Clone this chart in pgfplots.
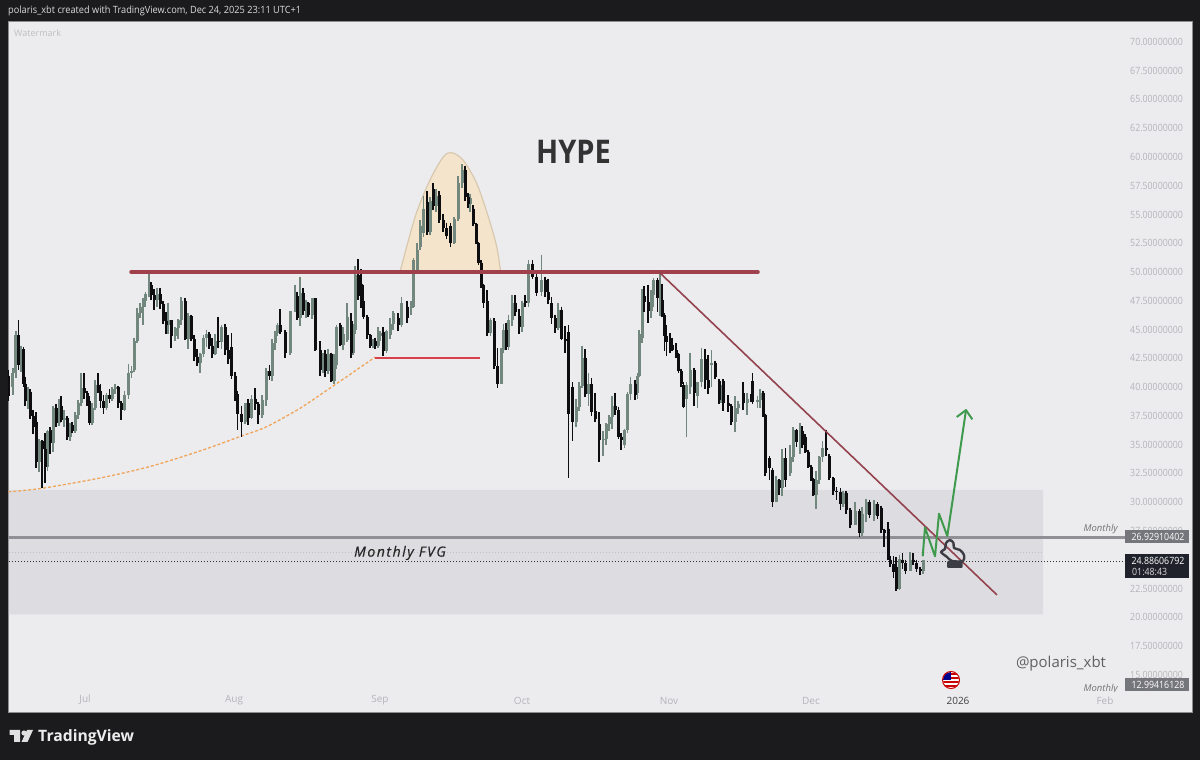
\documentclass[border=0pt]{standalone}
\usepackage{fontspec}
\setmainfont{Open Sans}
\usepackage{pgfplots}
\usepackage{pgfplotstable}
\pgfplotsset{compat=1.18}

\definecolor{frame}{HTML}{1B1B1D}
\definecolor{panel}{HTML}{ECECEF}
\definecolor{zone}{HTML}{DDDDE1}
\definecolor{axistext}{HTML}{B4B4B9}
\definecolor{upcandle}{HTML}{72887F}
\definecolor{downcandle}{HTML}{0E0E10}
\definecolor{resist}{HTML}{A0404C}
\definecolor{trend}{HTML}{93424E}
\definecolor{necklinered}{HTML}{D8404C}
\definecolor{bump}{HTML}{F5E4CC}
\definecolor{bumpedge}{HTML}{D8C8AE}
\definecolor{fibo}{HTML}{F0A55A}
\definecolor{path}{HTML}{3F9A4E}
\definecolor{monthly}{HTML}{8F8F95}
\definecolor{tag}{HTML}{75757C}
\definecolor{lasttag}{HTML}{1F222B}
\definecolor{hand}{HTML}{3D3D45}

% x is the pixel column of the screenshot, prices as on the right scale
\pgfplotstableread{
x o h l c
8.5 41.0 41.5 38.8 39.2
13 40.0 41.7 39.3 41.2
16 41.2 44.9 40.8 44.5
18.5 44.5 45.8 41.5 41.9
21 41.9 43.6 41.3 43.3
23.5 43.3 43.5 40.0 40.3
25 40.3 40.9 38.4 38.8
28 38.8 40.0 38.1 39.6
30 39.6 39.8 37.2 37.5
33 37.5 38.0 35.9 36.5
36 37.0 37.8 33.0 33.5
39 33.5 35.5 32.6 35.3
42 35.3 35.4 31.2 34.6
45 34.6 36.0 31.7 33.1
47.5 33.1 36.3 32.7 36.2
50 36.3 36.5 34.2 35.1
53 35.1 38.4 34.4 38.2
56 38.2 38.5 36.5 36.9
59 36.9 39.0 36.6 38.4
61 38.4 39.2 37.0 37.1
64 37.1 38.0 36.5 37.3
67 37.3 37.5 35.4 35.7
70 35.7 36.9 35.3 36.7
72 36.7 37.0 36.0 36.2
75 36.2 37.8 36.0 37.6
78 37.6 38.9 37.2 38.6
81 38.6 41.2 38.4 39.9
84 39.9 41.2 39.0 39.5
87 39.5 39.7 38.4 38.8
89.5 38.8 39.2 36.7 36.9
92 36.9 38.6 36.7 38.2
95 38.2 40.6 38.0 40.2
98 40.2 41.2 39.5 39.7
100.5 39.7 40.3 38.2 38.8
103.5 38.8 39.3 37.7 38.2
106.5 38.2 39.5 38.0 39.3
109.5 39.3 39.8 38.6 39.0
112 39.0 40.0 38.8 39.8
115 39.8 40.3 39.4 40.0
118 40.0 40.1 38.2 38.6
121 38.6 38.8 37.1 38.0
124.5 38.0 39.7 37.9 39.3
128.5 39.3 42.0 39.0 41.2
131.5 41.2 41.8 40.8 41.4
134 41.5 44.3 41.3 44.0
137 44.0 46.9 43.8 46.4
140 46.4 47.3 46.0 47.0
143 47.0 47.7 45.4 47.5
145.5 47.5 48.3 47.0 48.1
149 48.1 49.9 47.8 48.9
151 48.9 49.1 47.6 48.0
154 48.0 48.5 46.7 47.6
157 47.6 48.6 47.0 48.1
160 48.1 48.6 46.8 47.2
163 47.2 47.5 45.5 45.7
166 45.7 46.5 44.6 45.4
168 45.4 47.3 44.6 45.8
171 45.8 45.8 43.4 44.4
175 44.4 45.2 44.0 45.1
178 45.1 45.9 44.2 45.8
181 45.8 47.8 45.4 47.5
185 47.5 47.7 44.1 44.2
188 44.2 46.4 43.3 46.2
191 46.2 46.3 44.0 44.2
194 44.2 44.5 42.3 42.6
197 42.6 43.3 41.8 42.1
200 42.1 43.0 41.2 42.9
203.5 42.9 44.5 42.6 44.3
206.5 44.3 45.0 43.5 44.6
209 44.6 44.8 43.3 43.6
212 43.6 44.3 42.5 42.9
215 42.9 44.6 42.8 44.0
218 44.0 46.1 43.4 43.9
221.5 43.9 45.4 43.3 45.2
225 45.2 45.5 42.8 43.2
228 43.2 44.5 42.0 42.4
231.5 43.5 44.7 40.7 41.0
235 41.0 41.3 38.8 39.4
237.5 39.4 39.7 36.3 37.7
241.5 37.7 38.4 35.7 37.0
245 37.0 38.6 36.8 38.6
248 38.6 39.0 36.7 37.3
251.5 37.3 39.3 37.2 39.0
255 39.0 39.9 38.0 38.5
258 38.5 38.7 36.8 37.6
262 37.6 39.3 37.3 38.9
266 38.9 41.7 38.4 41.4
269.5 41.4 41.9 40.6 41.0
272 41.0 44.2 40.5 43.8
275 43.8 44.9 43.2 44.7
277.5 44.7 45.6 44.4 45.4
280 45.4 46.8 44.6 44.8
285 44.8 45.0 42.5 43.0
290 43.0 46.6 42.8 46.6
295 46.7 48.9 46.5 47.9
297 47.9 48.3 45.8 46.0
300 46.0 49.6 45.3 48.2
303 48.2 48.6 46.3 46.6
306 46.6 47.6 46.0 47.3
308 47.3 47.4 46.1 46.3
312 46.3 47.7 45.9 47.7
315 47.7 47.7 43.1 43.2
320 43.2 44.0 41.0 41.5
323 41.5 43.0 41.2 42.9
325 42.9 43.2 40.9 41.4
328 41.4 43.3 41.1 42.9
331 42.9 43.0 40.4 40.5
334 40.5 42.9 40.3 41.9
336.5 41.9 45.4 41.6 45.2
340 45.4 45.6 43.6 43.7
343 43.7 45.2 43.2 44.6
347 44.1 47.3 43.9 46.1
351 45.7 46.4 42.5 43.0
353 43.0 45.5 42.8 45.0
355 45.0 50.5 44.6 49.7
358 49.7 51.1 47.6 47.9
361 49.0 50.3 46.9 47.2
363.5 47.5 48.9 45.9 46.1
367 46.1 46.3 44.2 44.5
370 44.5 44.6 43.4 43.6
373 43.6 44.2 43.4 44.0
375 44.0 44.3 43.3 43.6
378 43.6 45.2 43.4 44.4
380 44.4 44.9 44.0 44.7
383 44.8 45.2 42.7 43.1
386.5 43.1 45.0 43.0 44.9
390 44.5 46.0 44.2 45.5
393 45.5 46.6 45.0 46.4
398 46.0 46.4 44.9 45.4
401.5 45.4 47.8 45.2 47.3
407 47.0 47.5 45.6 46.0
411 46.9 47.5 46.3 47.2
413.5 47.0 51.2 46.9 51.0
417 50.2 52.5 50.0 51.9
420 52.2 54.5 51.9 54.0
423.5 53.4 56.6 53.0 55.5
427 56.1 57.0 53.2 53.5
430 53.5 56.5 53.2 56.2
433 57.2 57.7 55.4 55.7
436 55.7 57.2 55.2 56.6
439 56.7 57.0 54.3 54.5
443 54.5 55.0 53.5 53.8
446.5 53.8 54.3 52.9 53.1
450.5 54.0 54.3 52.2 52.5
454 52.5 54.8 52.4 54.6
458 54.6 58.3 54.4 57.7
462 57.7 59.4 57.3 58.9
465 58.9 59.2 56.2 56.5
468 56.5 56.9 55.6 55.9
470 55.9 56.8 55.2 56.4
473 55.5 55.8 54.0 54.2
476 54.2 54.3 52.4 52.5
478.5 52.5 52.6 50.6 50.8
481 50.8 51.0 48.6 48.9
483.5 48.9 49.0 46.9 47.3
487 47.5 48.4 44.4 44.7
490.5 44.7 46.0 44.4 45.8
494 45.7 46.0 41.6 41.8
497.5 41.8 43.4 39.9 40.3
501 40.3 43.4 40.3 43.2
503.5 43.2 45.5 43.0 45.0
506 45.0 45.6 43.2 43.5
508.5 43.5 46.3 43.2 45.8
512 45.8 48.0 45.3 47.3
515 47.3 48.0 46.2 46.5
519 46.2 46.8 44.6 45.2
522 45.2 47.5 44.8 47.3
525 47.5 48.0 47.0 47.3
528.5 47.3 51.0 47.0 50.7
532.5 50.7 51.0 49.4 49.6
536.5 49.6 50.0 47.9 48.2
541.5 48.3 51.5 47.9 49.3
545 49.3 49.6 47.8 48.3
548 48.3 49.4 47.2 47.6
551.5 47.3 47.8 45.5 46.0
555 46.0 46.3 44.7 45.1
558 45.1 47.3 45.0 46.7
561.5 46.7 47.0 44.1 44.2
565 44.2 45.3 43.0 44.0
568.5 44.8 45.4 32.1 37.7
572.5 40.0 40.4 35.3 37.0
576 37.0 39.0 36.5 38.3
579 38.3 40.4 37.9 40.1
582 40.1 43.6 39.9 42.5
585 42.5 43.3 39.1 39.4
588.5 39.4 41.2 38.4 40.3
591.5 40.3 40.8 37.5 37.8
595 37.9 39.5 37.0 37.2
599 36.8 37.8 33.5 35.4
603 35.4 36.2 34.0 35.5
606 35.5 36.9 35.0 36.8
609 36.8 37.6 36.2 37.4
612 37.4 39.2 36.4 38.4
615 38.4 39.5 37.6 38.0
618.5 38.0 38.3 35.5 35.7
621 35.7 36.0 34.5 35.4
624.5 35.0 36.4 34.7 36.3
627.5 36.3 39.6 36.0 39.4
630.5 39.4 40.9 38.9 40.3
635 40.3 40.6 38.9 39.3
637.5 39.5 41.2 39.0 41.0
639 41.0 45.0 40.9 44.6
642 44.3 48.5 43.8 47.9
644 47.9 48.8 46.5 47.4
648 47.4 48.9 45.6 46.6
651 46.6 48.4 46.0 48.0
653.5 48.0 49.5 47.0 49.3
657.5 49.3 49.5 46.5 47.7
660 47.7 50.1 46.2 49.0
662 47.6 49.0 46.1 46.3
664.5 46.3 46.4 43.1 44.4
666.5 44.4 45.4 42.7 43.9
670 44.0 44.7 43.0 43.7
672 43.7 44.3 43.1 43.2
676 43.2 43.8 42.5 42.9
678.5 42.9 43.0 41.2 41.4
681 41.4 41.6 40.0 40.3
683.5 40.2 40.4 38.2 38.3
686.5 39.0 40.4 35.7 40.2
690 40.0 43.0 39.4 41.5
694 41.5 41.7 38.4 39.5
697.5 39.2 40.4 38.2 40.4
701.5 40.4 43.4 40.0 42.4
705 42.4 43.3 39.8 40.6
708 40.6 42.8 39.4 39.9
711.5 41.9 43.2 40.0 42.1
715 42.1 42.3 40.7 40.9
719 40.5 40.7 38.5 38.9
721 38.9 40.2 38.6 40.0
723 40.5 40.7 37.9 38.6
728 38.6 39.3 37.8 38.4
731 38.4 38.5 36.7 37.0
735 37.0 39.2 36.1 38.2
738 38.2 38.8 37.7 38.5
743 39.5 40.4 38.0 38.6
747 38.6 39.5 37.6 39.0
751 39.0 39.4 38.7 38.9
752.5 40.5 41.2 38.5 38.7
757.5 38.7 39.2 38.2 38.9
760 38.9 39.8 38.2 39.5
763 39.5 39.7 37.4 37.6
765 37.6 37.7 32.3 32.5
769.5 33.8 34.0 31.9 33.0
772.5 32.8 33.0 29.6 30.0
776 30.0 32.3 30.0 31.9
779 31.9 32.0 30.6 31.2
782 31.2 34.6 30.5 33.8
785.5 33.8 34.7 31.3 31.9
790 32.5 35.0 32.3 33.9
793 33.9 36.5 33.5 36.3
796.5 36.3 36.4 34.8 35.2
800 35.2 36.9 34.2 36.2
802 36.2 36.6 34.7 35.0
805 35.7 35.9 34.3 34.4
808 34.4 34.5 33.0 33.1
811 33.1 33.2 31.8 32.0
813 32.0 32.1 30.5 30.6
816 30.6 32.7 29.4 31.9
819 31.9 34.0 31.6 33.9
822.5 33.9 35.3 33.5 34.7
826 34.7 36.3 34.0 34.5
829 34.0 34.2 31.9 32.1
833 32.1 32.2 30.6 31.0
836.5 31.0 31.3 30.2 30.9
840.5 30.9 31.2 29.3 29.8
843 29.8 31.0 29.6 30.8
846 30.8 31.0 29.0 29.3
850 29.3 29.5 27.8 28.0
855 28.0 30.0 28.0 29.2
859.5 29.2 29.4 27.0 27.3
862 27.3 29.6 27.1 29.0
866 29.0 30.3 28.3 30.0
869.5 30.0 30.2 28.6 28.9
874 28.9 30.2 28.4 29.8
877.5 29.8 30.0 28.5 28.8
881 29.5 29.7 27.3 27.6
884 27.6 27.7 26.1 27.3
888 27.7 28.3 25.0 25.0
890 25.0 25.3 24.4 24.6
893.3 24.6 25.3 23.4 23.9
896 24.4 25.2 22.3 22.5
899.5 22.5 25.4 22.4 25.1
902.5 25.0 25.6 24.2 24.7
905.5 24.7 25.0 23.8 24.0
910 24.0 25.7 24.0 25.0
913 25.0 25.6 24.5 24.8
916.5 24.7 25.0 23.9 24.2
920 24.2 24.4 23.7 24.0
923 24.0 25.0 23.8 25.0
}\candles

% one set of wicks and bodies: colour, test on the row
\newcommand{\candleset}[2]{%
  \addplot[draw=none, mark=none, error bars/.cd, y dir=minus, y explicit, error mark=none,
    error bar style={solid, draw=#1, line width=1.1pt}]
    table[x=x, y expr={#2 ? \thisrow{h} : nan}, y error minus expr={\thisrow{h}-\thisrow{l}}] {\candles};
  \addplot[draw=none, mark=none, error bars/.cd, y dir=minus, y explicit, error mark=none,
    error bar style={solid, draw=#1, line width=3pt}]
    table[x=x, y expr={#2 ? max(\thisrow{o},\thisrow{c}) : nan}, y error minus expr={abs(\thisrow{o}-\thisrow{c})}] {\candles};
}

\begin{document}
\begin{tikzpicture}
\fill[frame] (0,0) rectangle (1200pt,760pt);
\begin{axis}[
  at={(8pt,48pt)}, anchor=south west,
  scale only axis, width=1184pt, height=691pt,
  xmin=8, xmax=1192, ymin=11.77, ymax=71.81,
  axis background/.style={fill=panel},
  axis line style={draw=black!45, line width=0.8pt},
  major tick length=0pt,
  unbounded coords=discard,
  xtick={85,234,380,522,669,811,958,1105},
  xticklabels={Jul,Aug,Sep,Oct,Nov,Dec,\textcolor{black!75}{2026},Feb},
  xticklabel style={anchor=south, yshift=4pt, font=\fontsize{10}{12}\selectfont, text=axistext},
  ytick={15,17.5,...,70},
  yticklabel pos=right,
  yticklabel style={anchor=east, xshift=-6pt, xscale=0.88, font=\fontsize{10}{12}\selectfont, text=axistext,
    /pgf/number format/.cd, fixed, fixed zerofill, precision=8, assume math mode=true},
  scaled y ticks=false,
]
% Monthly FVG zone
\addplot[draw=none, fill=zone] coordinates {(9,31.06)(1043,31.06)(1043,20.25)(9,20.25)(9,31.06)};
% bump over the 50 level
\addplot[fill=bump, draw=bumpedge, line width=1.2pt, smooth] coordinates {(400,50)(406.7,52.2)(416.7,55.2)(430,58)(443.3,60)(451.7,60.37)(463.3,59.7)(476.7,57.7)(488.3,54.8)(496.7,52.2)(500.7,50)};
% curved support
\addplot[fibo, line width=1.3pt, dash pattern=on 3pt off 2pt, smooth] coordinates {(8.3,30.9)(41.7,31.2)(100,32.1)(150,33.1)(200,34.45)(240,35.7)(266.7,36.56)(300,38.15)(313,38.9)(346.7,40.9)(375,42.6)};
\addplot[monthly!55, line width=0.8pt, dash pattern=on 1.2pt off 1.8pt] coordinates {(9,25.6)(1043,25.6)};
\addplot[black!80, line width=0.8pt, dash pattern=on 1.2pt off 1.8pt] coordinates {(9,24.886)(1126,24.886)};
\addplot[monthly, line width=2.2pt] coordinates {(8,26.93)(1126,26.93)};
\candleset{upcandle}{\thisrow{c}>=\thisrow{o}}
\candleset{downcandle}{\thisrow{c}<\thisrow{o}}
% resistance, neckline, trend line
\addplot[resist, line width=3.5pt, line cap=round] coordinates {(131,50)(758,50)};
\addplot[draw=necklinered, line width=1.8pt] coordinates {(375,42.55)(480,42.55)};
\addplot[trend, line width=1.6pt] coordinates {(659,50)(997,21.94)};
% projected path
\addplot[path, line width=2pt, line join=round] coordinates {(922.7,25.3)(925,27.8)(935,25.3)(939,29)(947.3,27.06)(966,38)};
\addplot[path, line width=2pt, line join=round] coordinates {(956.7,37.4)(966,38)(972.3,37.2)};
\end{axis}

% everything below in screenshot pixels, y pointing down
\begin{scope}[x=1pt, y=-1pt, yshift=760pt]
\node[anchor=west, inner sep=0, xscale=0.92, text=black!14, font=\fontsize{10}{12}\selectfont] at (8,10.5) {polaris\_xbt created with TradingView.com, Dec 24, 2025 23:11 UTC+1};
\node[anchor=west, inner sep=0, text=black!25, font=\fontsize{9}{11}\selectfont] at (14,33) {Watermark};
\node[inner sep=0, xscale=0.89, text=black!80, font=\fontsize{32.6}{38}\selectfont\bfseries] at (573.5,151.5) {HYPE};
\node[inner sep=0, text=black!85, font=\fontsize{14}{16}\selectfont\itshape\addfontfeature{LetterSpace=11,FakeBold=0.4}] at (400,553) {Monthly FVG};
\node[inner sep=0, text=black!62, font=\fontsize{15}{18}\selectfont] at (1061,664) {@polaris\_xbt};
\node[anchor=east, inner sep=0, text=black!55, font=\fontsize{9.5}{12}\selectfont\itshape] at (1118,529) {Monthly};
\begin{scope}
\clip (1080,680) rectangle (1124,691.5);
\node[anchor=east, inner sep=0, text=black!55, font=\fontsize{9.5}{12}\selectfont\itshape] at (1118,689) {Monthly};
\end{scope}
% price tags
\fill[tag] (1125,530) rectangle (1189,543);
\node[inner sep=0, xscale=0.88, text=white, font=\fontsize{10}{12}\selectfont] at (1158,536.5) {26.92910402};
\fill[lasttag] (1125,554) rectangle (1189,578);
\node[inner sep=0, xscale=0.88, text=white, font=\fontsize{10}{12}\selectfont] at (1158,560.5) {24.88606792};
\node[anchor=west, inner sep=0, xscale=0.88, text=white!85!black, font=\fontsize{10}{12}\selectfont] at (1132,571.5) {01:48:43};
\fill[tag] (1125,678) rectangle (1189,691);
\node[inner sep=0, xscale=0.88, text=white, font=\fontsize{10}{12}\selectfont] at (1158,684.5) {12.99416128};
% hand cursor
\draw[hand, line width=2.4pt, line join=round] plot[smooth cycle] coordinates {(941,552)(945,549)(946,543)(950,540)(953.5,543)(954,548)(960,550)(964,555)(963,561)(952,561)(947,557)};
\fill[hand, rounded corners=1pt] (947,561) rectangle (962.5,568);
% calendar flag
\begin{scope}
\clip (951,680) circle (8);
\fill[white] (942,671) rectangle (960,689);
\foreach \yy in {673,677,681,685} \fill[red!80!black] (942,\yy) rectangle (960,\yy+2);
\fill[blue!55!black] (942,671) rectangle (951,680);
\end{scope}
\draw[red!80!black, line width=1pt] (951,680) circle (8.5);
% footer logo
\fill[black!12] (9.5,730) -- (20,730) -- (20,742) -- (14,742) -- (14,735) -- (9.5,735) -- cycle;
\fill[black!12] (24,733) circle (2.6);
\fill[black!12] (27,730) -- (33,730) -- (27.5,742) -- (21.5,742) -- cycle;
\node[anchor=west, inner sep=0, text=black!7, font=\fontsize{15.7}{20}\selectfont\bfseries] at (38,737) {TradingView};
\end{scope}
\end{tikzpicture}
\end{document}
